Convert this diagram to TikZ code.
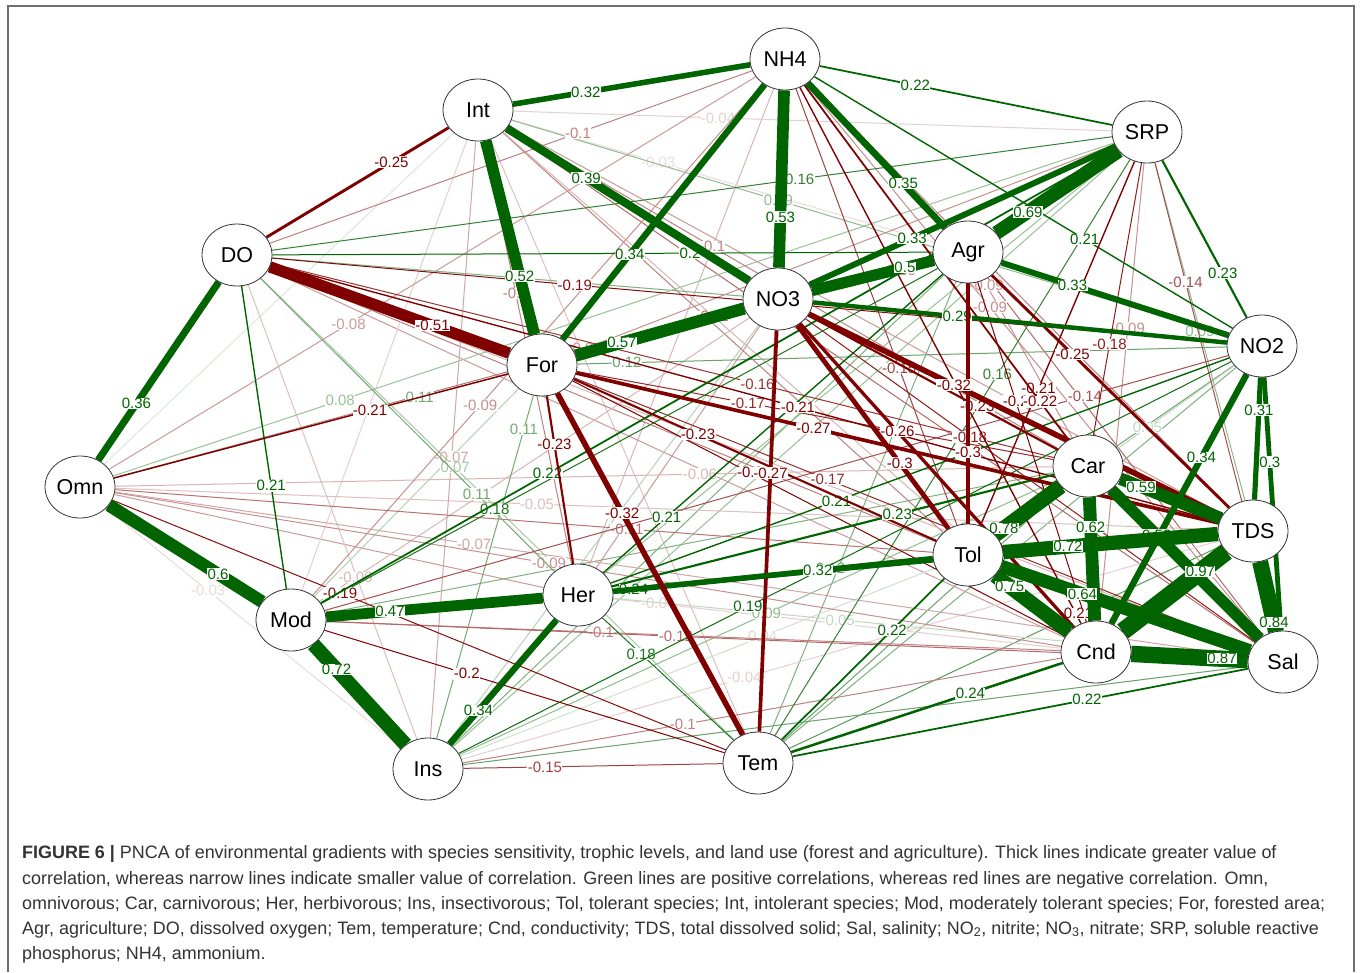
\documentclass[tikz,border=0pt]{standalone}
\usepackage{fontspec}
\setmainfont{Liberation Sans}
\newfontfamily\capfont{Liberation Sans}
\usetikzlibrary{shapes.geometric,calc}
\definecolor{posc}{RGB}{0,100,0}
\definecolor{negc}{RGB}{128,0,0}
\definecolor{capgray}{RGB}{51,51,51}
\definecolor{framec}{RGB}{110,110,110}
\pgfdeclarelayer{bg}
\pgfdeclarelayer{paper}
\pgfsetlayers{paper,bg,main}
\tikzset{
  varnode/.style={ellipse, draw=black!80, line width=0.8pt, fill=white, minimum width=70pt, minimum height=62pt, inner sep=0pt, font=\fontsize{21.5}{21.5}\selectfont},
  lbl/.style={fill=white, inner sep=0.4pt, font=\fontsize{15}{15}\selectfont},
  captext/.style={anchor=base west, inner sep=0pt, text=capgray, font=\capfont\fontsize{17.95}{20}\selectfont}
}
\newcommand\edgecol[1]{%
  \pgfmathsetmacro\aw{abs(#1)}%
  \pgfmathsetmacro\lw{\aw<0.2 ? 1 : (\aw<0.45 ? 1+38*(\aw-0.2) : 10.5+14*(\aw-0.45))}%
  \pgfmathtruncatemacro\pc{\aw<0.2 ? max(12,100*\aw/0.2) : 100}%
  \pgfmathtruncatemacro\sg{#1>0 ? 1 : 0}%
  \ifnum\sg=1 \colorlet{ec}{posc!\pc!white}\else\colorlet{ec}{negc!\pc!white}\fi
}
\newcommand\E[4]{%
  \edgecol{#3}%
  \draw[line width=\lw pt, ec] (#1) -- (#2);
  \node[lbl, text=ec] at ($(#1)!(#4)!(#2)$) {#3};
}
\newcommand\F[3]{%
  \edgecol{#3}%
  \draw[line width=\lw pt, ec] (#1) -- (#2);
}
\begin{document}
\begin{tikzpicture}[x=1pt,y=-1pt]
\useasboundingbox (0,0) rectangle (1360,972);
\begin{pgfonlayer}{paper}
\fill[white] (0,0) rectangle (1360,972);
\end{pgfonlayer}
\draw[framec, line width=1.3pt] (8,972) -- (8,6) -- (1354,6) -- (1354,972);

% nodes
\node[varnode] (NH4) at (785,59) {NH4};
\node[varnode] (Int) at (478,110) {Int};
\node[varnode] (SRP) at (1147,132) {SRP};
\node[varnode] (Agr) at (968,252) {Agr};
\node[varnode] (NO2) at (1262,346) {NO2};
\node[varnode] (DO) at (237,255) {DO};
\node[varnode] (NO3) at (778,299) {NO3};
\node[varnode] (For) at (542,365) {For};
\node[varnode] (Omn) at (80,487) {Omn};
\node[varnode] (Mod) at (291,620) {Mod};
\node[varnode] (Her) at (578,595) {Her};
\node[varnode] (Ins) at (428,769) {Ins};
\node[varnode] (Tem) at (758,763) {Tem};
\node[varnode] (Tol) at (968,555) {Tol};
\node[varnode] (Car) at (1088,466) {Car};
\node[varnode] (TDS) at (1253,531) {TDS};
\node[varnode] (Cnd) at (1096,652) {Cnd};
\node[varnode] (Sal) at (1283,662) {Sal};

\begin{pgfonlayer}{bg}
% unlabeled faint edges
\F{Omn}{Her}{-0.08}
\F{Omn}{Int}{0.03}
\F{Tem}{Int}{-0.05}
\F{Tem}{NH4}{-0.06}
\F{Tem}{Car}{0.12}
\F{Tem}{TDS}{0.13}
\F{Tem}{NO2}{0.1}
\F{Tem}{Agr}{0.1}
\F{Ins}{Sal}{0.12}
\F{Ins}{NO3}{0.06}
\F{Ins}{DO}{-0.05}
\F{Ins}{Agr}{0.1}
\F{Ins}{SRP}{0.08}
\F{Mod}{Car}{0.1}
\F{Mod}{TDS}{0.08}
\F{Her}{NH4}{-0.06}
\F{Her}{SRP}{0.08}
\F{NH4}{TDS}{-0.1}
\F{Int}{Sal}{-0.12}
\F{Int}{Tol}{-0.1}
\F{Int}{TDS}{-0.08}
\F{Int}{Cnd}{-0.06}
\F{DO}{Tol}{-0.1}
\F{DO}{Cnd}{-0.08}
\F{DO}{Sal}{-0.06}
\F{DO}{NO3}{0.1}
\F{Agr}{Sal}{-0.12}
\F{Car}{NO2}{0.12}
\F{NO3}{Her}{-0.08}
\F{For}{Mod}{0.06}
\F{Int}{Mod}{-0.04}
% faint labelled edges
\E{Int}{SRP}{-0.04}{718,120}
\E{Int}{Agr}{-0.03}{658,163}
\E{Omn}{Ins}{-0.03}{208,591}
\E{Her}{Cnd}{-0.04}{660,587}
\E{Ins}{Tol}{0.04}{763,637}
\E{Ins}{TDS}{-0.04}{745,680}
\E{Her}{Sal}{0.05}{840,622}
\E{Omn}{TDS}{-0.05}{537,505}
\E{NO2}{Tol}{0.05}{1147,427}
\E{Mod}{NO3}{-0.06}{355,577}
\E{Omn}{Car}{-0.06}{700,473}
\E{Omn}{Sal}{-0.07}{473,552}
\E{Ins}{Int}{-0.07}{452,457}
\E{DO}{Tem}{0.07}{453,470}
\E{Omn}{NH4}{-0.08}{348,323}
\E{Omn}{SRP}{0.08}{345,415}
\E{Int}{NO2}{0.09}{778,202}
\E{SRP}{Cnd}{-0.09}{1127,328}
\E{SRP}{TDS}{0.09}{1200,331}
\E{Agr}{For}{-0.09}{903,285}
\E{Agr}{Car}{-0.09}{975,292}
\E{NH4}{Sal}{-0.09}{983,313}
\E{Mod}{NH4}{-0.09}{480,405}
\E{Omn}{Cnd}{-0.09}{550,557}
\E{For}{SRP}{-0.09}{590,362}
\E{Ins}{Car}{0.09}{768,617}
\E{DO}{NH4}{-0.1}{578,133}
\E{Int}{Car}{-0.1}{712,247}
\E{Int}{Her}{-0.1}{517,293}
\E{Ins}{Cnd}{-0.1}{683,725}
\E{Mod}{Cnd}{-0.1}{601,632}
\E{Omn}{NO3}{-0.11}{713,320}
\E{Omn}{Agr}{0.11}{420,398}
\E{Omn}{Tol}{-0.11}{627,530}
\E{DO}{Her}{0.11}{473,498}
\E{For}{Ins}{0.11}{537,433}
\E{For}{NO2}{0.12}{627,363}
\E{Mod}{Sal}{-0.12}{676,637}
\E{Mod}{Tol}{0.12}{832,583}
\E{SRP}{Sal}{-0.14}{1186,282}
\E{Mod}{NO2}{-0.14}{1087,403}
\E{Ins}{Tem}{-0.15}{545,769}
\E{NH4}{Tol}{-0.15}{900,368}
\E{DO}{SRP}{0.16}{800,181}
\E{SRP}{Tem}{0.16}{998,375}
\E{DO}{Car}{-0.16}{757,386}
\E{For}{Car}{-0.17}{748,403}
\E{For}{Sal}{-0.17}{827,481}
\E{SRP}{Car}{-0.18}{1108,344}
\E{NO3}{Sal}{-0.18}{970,437}
\E{Mod}{Agr}{0.18}{498,515}
\E{Her}{Tem}{0.18}{641,654}
\E{DO}{NO2}{-0.19}{575,283}
\E{Omn}{Tem}{-0.19}{340,593}
\E{Ins}{NO2}{0.19}{748,607}
% medium edges
\E{DO}{Agr}{0.2}{690,253}
\E{Mod}{Tem}{-0.2}{467,673}
\E{For}{Cnd}{-0.2}{750,473}
\E{Agr}{Cnd}{-0.2}{1013,402}
\E{DO}{Mod}{0.21}{270,486}
\E{Omn}{For}{-0.21}{370,410}
\E{Her}{Agr}{0.21}{665,515}
\E{NH4}{NO2}{0.21}{1083,242}
\E{SRP}{Tol}{-0.21}{1047,392}
\E{DO}{TDS}{-0.21}{795,418}
\E{Her}{NO2}{0.21}{837,502}
\E{NH4}{Cnd}{-0.21}{1068,618}
\E{NH4}{SRP}{0.22}{915,87}
\E{Tem}{Sal}{0.22}{1087,700}
\E{Tem}{Tol}{0.22}{893,631}
\E{NH4}{Car}{-0.22}{1040,402}
\E{Mod}{SRP}{0.22}{550,478}
\E{SRP}{NO2}{0.23}{1221,274}
\E{For}{Her}{-0.23}{553,445}
\E{For}{Tol}{-0.23}{697,437}
\E{NO3}{Car}{-0.23}{977,407}
\E{Her}{Car}{0.23}{897,513}
\E{Tem}{Cnd}{0.24}{970,692}
\E{Her}{TDS}{0.24}{632,573}
\E{Int}{DO}{-0.25}{392,163}
\E{Agr}{TDS}{-0.25}{1072,355}
\E{NO3}{Cnd}{-0.26}{897,432}
\E{NO3}{Tem}{-0.27}{773,473}
\E{For}{TDS}{-0.27}{813,430}
\E{NO3}{NO2}{0.29}{957,319}
\E{NO2}{Sal}{0.3}{1268,462}
\E{NO3}{Tol}{-0.3}{897,465}
\E{Agr}{Tol}{-0.3}{968,452}
\E{NO2}{TDS}{0.31}{1257,410}
\E{Int}{NH4}{0.32}{586,93}
\E{Her}{Tol}{0.32}{818,572}
\E{For}{Tem}{-0.32}{622,513}
\E{NO3}{TDS}{-0.32}{953,387}
\E{SRP}{NO3}{0.33}{912,238}
\E{Agr}{NO2}{0.33}{1072,287}
\E{NH4}{For}{0.34}{628,253}
\E{Ins}{Her}{0.34}{478,710}
\E{NO2}{Cnd}{0.34}{1202,458}
\E{NH4}{Agr}{0.35}{902,185}
\E{Omn}{DO}{0.36}{140,406}
\E{Int}{NO3}{0.39}{585,180}
% strong edges
\E{Mod}{Her}{0.47}{390,611}
\E{Agr}{NO3}{0.5}{905,268}
\E{DO}{For}{-0.51}{432,327}
\E{Int}{For}{0.52}{520,276}
\E{NH4}{NO3}{0.53}{780,217}
\E{Car}{Sal}{0.53}{1157,535}
\E{For}{NO3}{0.57}{622,343}
\E{Car}{TDS}{0.59}{1141,487}
\E{Omn}{Mod}{0.6}{218,574}
\E{Car}{Cnd}{0.62}{1090,527}
\E{Tol}{Sal}{0.64}{1083,592}
\E{SRP}{Agr}{0.69}{1028,212}
\E{Tol}{TDS}{0.72}{1068,548}
\E{Mod}{Ins}{0.72}{336,670}
\E{Tol}{Cnd}{0.75}{1010,586}
\E{Tol}{Car}{0.78}{1003,527}
\E{TDS}{Sal}{0.84}{1273,623}
\E{Cnd}{Sal}{0.87}{1222,659}
\E{TDS}{Cnd}{0.97}{1200,571}
\end{pgfonlayer}

% caption
\node[captext] (c1) at (22,858) {\textbf{FIGURE 6 |} PNCA of environmental gradients with species sensitivity, trophic levels, and land use (forest and agriculture). Thick lines indicate greater value of};
\node[captext] (c2) at (22,884) {correlation, whereas narrow lines indicate smaller value of correlation. Green lines are positive correlations, whereas red lines are negative correlation. Omn,};
\node[captext] (c3) at (22,909) {omnivorous; Car, carnivorous; Her, herbivorous; Ins, insectivorous; Tol, tolerant species; Int, intolerant species; Mod, moderately tolerant species; For, forested area;};
\node[captext] (c4) at (22,934) {Agr, agriculture; DO, dissolved oxygen; Tem, temperature; Cnd, conductivity; TDS, total dissolved solid; Sal, salinity; NO\textsubscript{2}, nitrite; NO\textsubscript{3}, nitrate; SRP, soluble reactive};
\node[captext] (c5) at (22,959) {phosphorus; NH4, ammonium.};
\end{tikzpicture}
\end{document}
